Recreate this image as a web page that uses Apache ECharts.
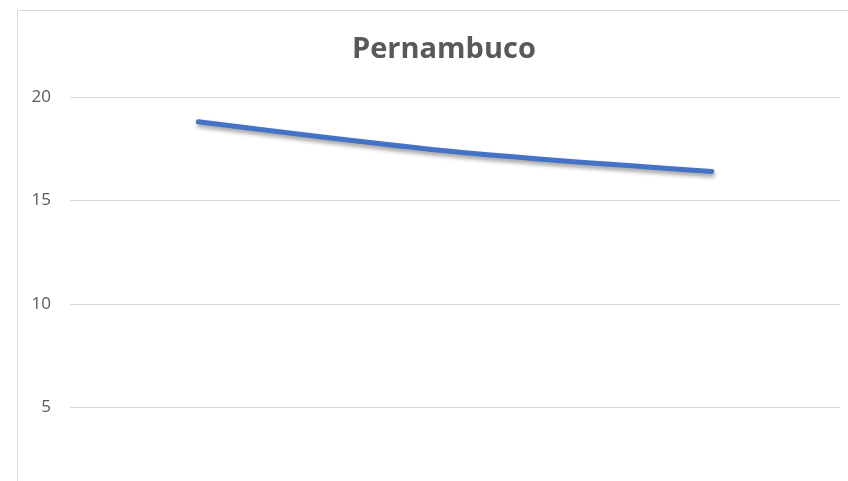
<!DOCTYPE html>
<html>
<head>
<meta charset="utf-8">
<style>html,body{margin:0;padding:0;background:#fff;}#chart{width:848px;height:481px;}</style>
<script src="https://cdn.jsdelivr.net/npm/echarts@6/dist/echarts.min.js"></script>
</head>
<body>
<div id="chart"></div>
<script>
const titleText = "Pernambuco";
const categories = ["1", "2", "3"];
const values = [18.8, 17.35, 16.4];
const yTicks = [5, 10, 15, 20];
const yMin = 1.45;
const yMax = 20;

const chart = echarts.init(document.getElementById('chart'), null, {renderer: 'canvas'});
chart.setOption({
  animation: false,
  backgroundColor: '#ffffff',
  graphic: [{
    type: 'rect',
    shape: {x: 17.5, y: 10.5, width: 900, height: 600},
    style: {fill: 'none', stroke: '#d9d9d9', lineWidth: 1},
    z: 0
  }],
  title: {
    text: titleText,
    left: 347,
    top: 30,
    textStyle: {fontFamily: 'Open Sans', fontWeight: 'bold', fontSize: 29, color: '#595959'}
  },
  grid: {left: 70, right: 8, top: 97, bottom: 0, containLabel: false},
  xAxis: {
    type: 'category',
    data: categories,
    boundaryGap: true,
    axisLine: {show: false},
    axisTick: {show: false},
    axisLabel: {show: false},
    splitLine: {show: false}
  },
  yAxis: {
    type: 'value',
    min: yMin,
    max: yMax,
    axisLine: {show: false},
    axisTick: {show: false, customValues: yTicks},
    axisLabel: {customValues: yTicks, fontFamily: 'Open Sans', fontSize: 17, color: '#595959', margin: 19},
    splitLine: {lineStyle: {color: '#d9d9d9', width: 1}}
  },
  series: [{
    type: 'line',
    data: values,
    smooth: 0.3,
    symbol: 'none',
    lineStyle: {
      color: '#4472C4', width: 5, cap: 'round', join: 'round',
      shadowColor: 'rgba(0,0,0,0.4)', shadowBlur: 4, shadowOffsetY: 3, shadowOffsetX: 1
    }
  }]
});
</script>
</body>
</html>
